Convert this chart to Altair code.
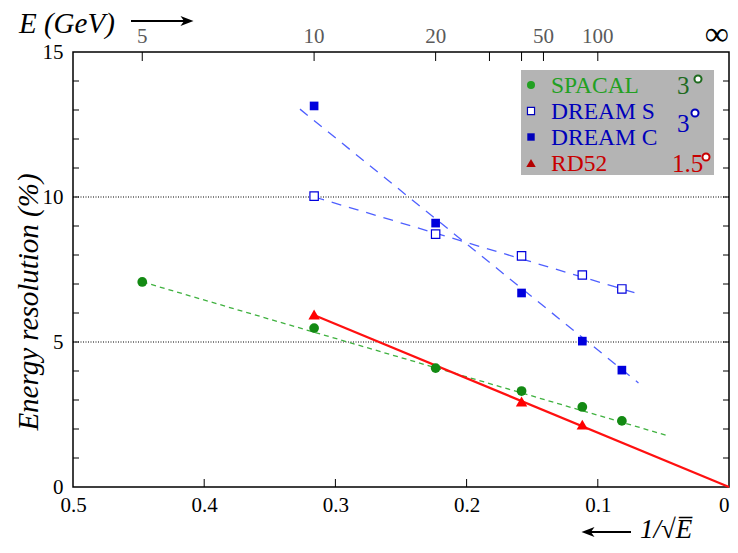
import altair as alt
import pandas as pd

# ---------------- data ----------------
spacal_E = [5, 10, 20, 40, 80, 150]
spacal_res = [7.07, 5.48, 4.10, 3.31, 2.76, 2.28]
dreams_E = [10, 20, 40, 80, 150]
dreams_res = [10.03, 8.72, 7.97, 7.31, 6.83]
dreamc_E = [10, 20, 40, 80, 150]
dreamc_res = [13.14, 9.10, 6.69, 5.03, 4.03]
rd52_E = [10, 40, 80]
rd52_res = [5.95, 2.95, 2.15]

# fitted lines: endpoints in 1/sqrt(E) and resolution (%)
spacal_fit_x = [0.447, 0.046]
spacal_fit_y = [7.07, 1.76]
dreams_fit_x = [0.316, 0.069]
dreams_fit_y = [10.0, 6.66]
dreamc_fit_x = [0.327, 0.069]
dreamc_fit_y = [13.03, 3.59]
rd52_fit_x = [0.316, 0.0]
rd52_fit_y = [5.92, 0.0]

x_tick_values = [0.5, 0.4, 0.3, 0.2, 0.1, 0.0]
x_inner_ticks = [0.4, 0.3, 0.2, 0.1]
y_tick_values = [0, 5, 10, 15]
y_minor_ticks = list(range(1, 15))
grid_values = [5, 10]
top_label_E = [5, 10, 20, 50, 100]
top_tick_E = [5, 10, 20, 30, 40, 50, 100]

legend_labels = ["SPACAL", "DREAM S", "DREAM C", "RD52"]
legend_text_colors = ["#22a022", "#0000bb", "#0000bb", "#c80000"]
angle_labels = ["3", "3", "1.5"]
angle_colors = ["#1e6a1e", "#0000bb", "#c80000"]

# ---------------- layout ----------------
W, H = 656, 435
FONT = "Liberation Serif"
XS = alt.Scale(domain=[0, 0.5], reverse=True, nice=False, zero=False)
YS = alt.Scale(domain=[0, 15], nice=False, zero=False)

x_axis = alt.Axis(values=x_tick_values,
                  labelExpr="datum.value == 0 ? '0' : format(datum.value, '.1f')",
                  labelAlign=alt.condition("datum.value == 0", alt.value("right"), alt.value("center")),
                  ticks=False, domain=False, grid=False, labelFont=FONT,
                  labelFontSize=21, labelColor="black", labelPadding=7,
                  labelFlush=False, labelOverlap=False, title=None)
y_axis = alt.Axis(values=y_tick_values, ticks=False, domain=False, grid=False,
                  labelFont=FONT, labelFontSize=21, labelColor="black",
                  labelPadding=10, labelOverlap=False, title=None)


def X(field):
    return alt.X(field, scale=XS, axis=x_axis)


def Y(field):
    return alt.Y(field, scale=YS, axis=y_axis)


def one():
    return pd.DataFrame({"k": [0]})


def points(E, res, mark):
    return alt.Chart(pd.DataFrame({"E": E, "res": res})).transform_calculate(
        x="1/sqrt(datum.E)"
    ).mark_point(**mark).encode(x=X("x:Q"), y=Y("res:Q"))


def fit(xv, yv, **mark):
    return alt.Chart(pd.DataFrame({"x": xv, "y": yv})).mark_line(**mark).encode(
        x=X("x:Q"), y=Y("y:Q"))


layers = []

# axis carrier layer (first, so axes are defined)
layers.append(points(spacal_E, spacal_res, dict(shape="circle", filled=True, opacity=0, size=1)))

# dotted horizontal grid at 5 and 10
layers.append(alt.Chart(pd.DataFrame({"v": grid_values})).mark_rule(
    color="black", strokeWidth=1, strokeDash=[1, 1.5]
).encode(y=Y("v:Q")))

# inner ticks: left, right, bottom, top
layers.append(alt.Chart(pd.DataFrame({"v": y_minor_ticks})).mark_rule(color="black", strokeWidth=1).encode(
    y=Y("v:Q"), x=alt.value(0), x2=alt.value(6)))
layers.append(alt.Chart(pd.DataFrame({"v": y_minor_ticks})).mark_rule(color="black", strokeWidth=1).encode(
    y=Y("v:Q"), x=alt.value(W - 6), x2=alt.value(W)))
layers.append(alt.Chart(pd.DataFrame({"v": x_inner_ticks})).mark_rule(color="black", strokeWidth=1).encode(
    x=X("v:Q"), y=alt.value(H - 8), y2=alt.value(H)))
layers.append(alt.Chart(pd.DataFrame({"E": top_tick_E})).transform_calculate(
    x="1/sqrt(datum.E)").mark_rule(color="black", strokeWidth=1).encode(
    x=X("x:Q"), y=alt.value(0), y2=alt.value(9)))

# top energy labels
layers.append(alt.Chart(pd.DataFrame({"E": top_label_E})).transform_calculate(
    x="1/sqrt(datum.E)", lab="toString(datum.E)").mark_text(
    font=FONT, fontSize=21, color="#5a5a5a", baseline="middle", align="center"
).encode(x=X("x:Q"), y=alt.value(-15), text="lab:N"))
layers.append(alt.Chart(one()).mark_text(
    font=FONT, fontSize=34, color="black", baseline="middle", align="right", dx=0
).encode(x=alt.value(W), y=alt.value(-17), text=alt.value("∞")))

# fitted lines
layers.append(fit(spacal_fit_x, spacal_fit_y, color="#3fb13f", strokeWidth=1.3, strokeDash=[5, 4]))
layers.append(fit(dreams_fit_x, dreams_fit_y, color="#4f60ff", strokeWidth=1.3, strokeDash=[10, 8]))
layers.append(fit(dreamc_fit_x, dreamc_fit_y, color="#4f60ff", strokeWidth=1.3, strokeDash=[10, 8]))
layers.append(fit(rd52_fit_x, rd52_fit_y, color="#ff1010", strokeWidth=2.2))

# data points
layers.append(points(spacal_E, spacal_res,
                     dict(shape="circle", filled=True, color="#138a13", opacity=1, size=95)))
layers.append(points(dreams_E, dreams_res,
                     dict(shape="square", filled=True, fill="white", stroke="#0000dd", strokeWidth=1.2,
                          opacity=1, size=70)))
layers.append(points(dreamc_E, dreamc_res,
                     dict(shape="square", filled=True, color="#0000dd", opacity=1, size=75)))
layers.append(points(rd52_E, rd52_res,
                     dict(shape="triangle-up", filled=True, color="#ff0000", opacity=1, size=130)))

# ---------------- legend box ----------------
layers.append(alt.Chart(one()).mark_rect(color="#b4b4b4").encode(
    x=alt.value(448), x2=alt.value(641), y=alt.value(18), y2=alt.value(123)))

row_y = [33, 59, 85, 111]
sym_marks = [
    dict(shape="circle", filled=True, color="#22a022", opacity=1, size=65),
    dict(shape="square", filled=True, fill="white", stroke="#0000bb", strokeWidth=1.2, opacity=1, size=50),
    dict(shape="square", filled=True, color="#0000bb", opacity=1, size=55),
    dict(shape="triangle-up", filled=True, color="#b40000", opacity=1, size=90),
]
for i, lab in enumerate(legend_labels):
    layers.append(alt.Chart(pd.DataFrame({"t": [lab]})).mark_point(**sym_marks[i]).encode(
        x=alt.value(458), y=alt.value(row_y[i])))
    layers.append(alt.Chart(pd.DataFrame({"t": [lab]})).mark_text(
        font=FONT, fontSize=23.5, align="left", baseline="middle", color=legend_text_colors[i]
    ).encode(x=alt.value(478), y=alt.value(row_y[i] + 1), text="t:N"))

angle_y = [34, 72, 112]
angle_x = [604, 604, 599]
deg_pos = [(625, 27), (622, 61), (633, 105)]
for i, a in enumerate(angle_labels):
    layers.append(alt.Chart(pd.DataFrame({"t": [a]})).mark_text(
        font=FONT, fontSize=25, align="left", baseline="middle", color=angle_colors[i]
    ).encode(x=alt.value(angle_x[i]), y=alt.value(angle_y[i]), text="t:N"))
    layers.append(alt.Chart(pd.DataFrame({"t": [a]})).mark_point(
        shape="circle", filled=True, fill="white", stroke=angle_colors[i], strokeWidth=2, opacity=1, size=50
    ).encode(x=alt.value(deg_pos[i][0]), y=alt.value(deg_pos[i][1])))

# ---------------- titles ----------------
layers.append(alt.Chart(one()).mark_text(
    font=FONT, fontSize=29, fontStyle="italic", angle=270, align="center", baseline="middle", color="black"
).encode(x=alt.value(-44), y=alt.value(250), text=alt.value("Energy resolution (%)")))

layers.append(alt.Chart(one()).mark_text(
    font=FONT, fontSize=29, fontStyle="italic", align="left", baseline="middle", color="black"
).encode(x=alt.value(-54), y=alt.value(-28), text=alt.value("E (GeV)")))
layers.append(alt.Chart(one()).mark_rule(color="black", strokeWidth=2.2).encode(
    x=alt.value(58), x2=alt.value(116), y=alt.value(-31)))
layers.append(alt.Chart(one()).mark_point(
    shape="M 1 0 L -1 -0.75 L -0.45 0 L -1 0.75 Z", filled=True, color="black", opacity=1, size=170
).encode(x=alt.value(114), y=alt.value(-31)))

layers.append(alt.Chart(one()).mark_rule(color="black", strokeWidth=2.2).encode(
    x=alt.value(513), x2=alt.value(558), y=alt.value(480)))
layers.append(alt.Chart(one()).mark_point(
    shape="M -1 0 L 1 -0.75 L 0.45 0 L 1 0.75 Z", filled=True, color="black", opacity=1, size=170
).encode(x=alt.value(515), y=alt.value(480)))
layers.append(alt.Chart(one()).mark_text(
    font=FONT, fontSize=27, fontStyle="italic", align="left", baseline="middle", color="black"
).encode(x=alt.value(567), y=alt.value(478), text=alt.value("1/√E\u0305")))

chart = alt.layer(*layers).properties(
    width=W, height=H,
    autosize=alt.AutoSizeParams(type="none"),
    padding={"left": 65, "top": 44, "right": 1, "bottom": 56},
).configure(
    font=FONT,
    view=alt.ViewConfig(stroke="black", strokeWidth=1.5),
)

chart.save("out.html", embed_options={"renderer": "svg", "actions": False})
